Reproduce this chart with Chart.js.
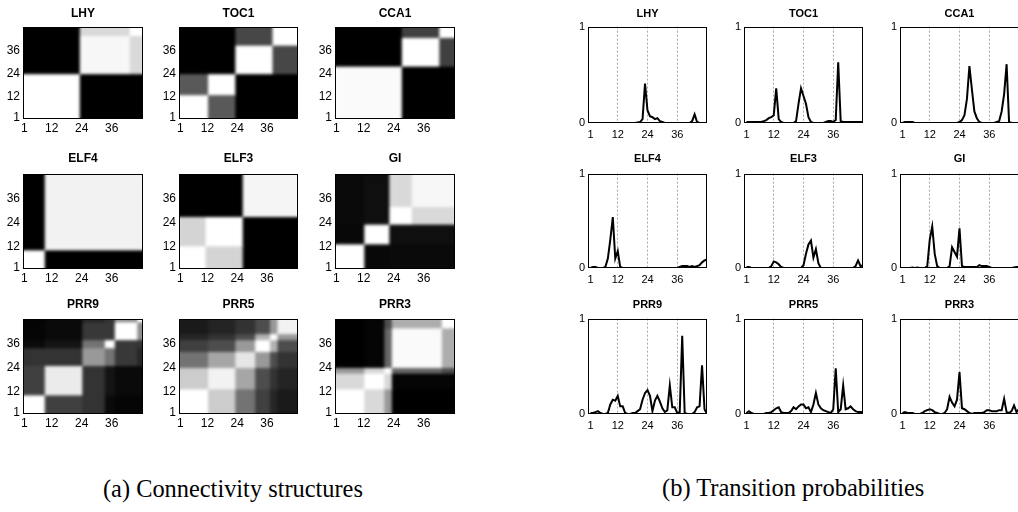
<!DOCTYPE html>
<html><head><meta charset="utf-8">
<script src="https://cdn.jsdelivr.net/npm/chart.js@4.4.1/dist/chart.umd.min.js"></script>
<style>
html,body{margin:0;padding:0;background:#fff;overflow:hidden;width:1018px;height:512px;position:relative;}
canvas{position:absolute;}
.ttl{position:absolute;font-family:"Liberation Sans",Arial,sans-serif;font-weight:bold;color:#000;text-align:center;white-space:nowrap;line-height:1;}
.cap{position:absolute;font-family:"Liberation Serif","Times New Roman",serif;color:#000;white-space:nowrap;line-height:1;}
</style></head><body>
<script>
// ---------------- data ----------------
const genes = ['LHY','TOC1','CCA1','ELF4','ELF3','GI','PRR9','PRR5','PRR3'];
const timeTicks = [1,12,24,36];
const probTicks = [0,1];

// Connectivity structures: segment ends (time points) and block similarity values
const lhyEnds = [23,43,48];
const lhyBlocks = [[1,0,0],[0,0.97,0.85],[0,0.85,1]];
const toc1Ends = [12,23,38,48];
const toc1Blocks = [[1,0.35,0,0],[0.35,1,0,0],[0,0,1,0.28],[0,0,0.28,1]];
const cca1Ends = [27,42,48];
const cca1Blocks = [[0.98,0,0],[0,1,0.25],[0,0.25,1]];
const elf4Ends = [9,48];
const elf4Blocks = [[1,0],[0,0.95]];
const elf3Ends = [11,26,48];
const elf3Blocks = [[1,0.83,0],[0.83,1,0],[0,0,0.96]];
const giEnds = [12,22,31,48];
const giBlocks = [[1,0.03,0.04,0.04],[0.03,1,0.06,0.06],[0.04,0.06,1,0.85],[0.04,0.06,0.85,0.97]];
const prr9Ends = [9,24,33,37,46,48];
const prr9Blocks = [
  [1,0.25,0.2,0.04,0.02,0.02],
  [0.25,0.92,0.2,0.08,0.04,0.04],
  [0.2,0.2,0.6,0.45,0.22,0.15],
  [0.04,0.08,0.45,1,0.22,0.2],
  [0.02,0.04,0.22,0.22,1,0.55],
  [0.02,0.04,0.15,0.2,0.55,1]];
const prr5Ends = [12,23,31,37,40,48];
const prr5Blocks = [
  [1,0.8,0.45,0.25,0.15,0.1],
  [0.8,0.95,0.65,0.3,0.2,0.14],
  [0.45,0.65,0.9,0.6,0.3,0.2],
  [0.25,0.3,0.6,1,0.7,0.3],
  [0.15,0.2,0.3,0.7,1,0.6],
  [0.1,0.14,0.2,0.3,0.6,0.95]];
const prr3Ends = [12,20,23,43,48];
const prr3Blocks = [
  [1,0.85,0.6,0,0],
  [0.85,1,0.85,0.02,0.02],
  [0.6,0.85,1,0.4,0.3],
  [0,0.02,0.4,0.98,0.68],
  [0,0.02,0.3,0.68,1]];

// Transition probabilities (time points 1..48)
const lhyProb = [0,0,0,0,0,0,0,0,0,0, 0,0,0,0,0,0,0,0,0,0.005, 0.01,0.04,0.41,0.13,0.07,0.06,0.04,0.05,0.02,0.01, 0,0,0,0,0,0,0,0,0,0, 0,0.02,0.09,0.01,0,0,0,0];
const toc1Prob = [0.01,0.01,0.01,0.01,0.01,0.01,0.01,0.02,0.03,0.05, 0.06,0.08,0.36,0.04,0.01,0,0,0,0,0, 0.02,0.2,0.36,0.28,0.2,0.06,0.01,0,0,0, 0,0,0.01,0.02,0.02,0.01,0.03,0.63,0.02,0.01, 0.01,0.01,0.01,0.01,0.01,0.01,0.01,0.01];
const cca1Prob = [0,0.01,0.01,0.01,0.01,0,0,0,0,0, 0,0,0,0,0,0,0,0,0,0, 0,0,0,0.01,0.03,0.08,0.25,0.59,0.35,0.12, 0.05,0.01,0,0,0,0,0,0,0.01,0.02, 0.12,0.3,0.61,0.01,0,0,0,0];
const elf4Prob = [0,0.01,0.01,0,0,0,0.01,0.1,0.3,0.54, 0.1,0.18,0.01,0,0,0,0,0,0,0, 0,0,0,0,0,0,0,0,0,0, 0,0,0,0,0,0,0.01,0.02,0.02,0.02, 0.01,0.02,0.01,0.02,0.03,0.06,0.08,0.09];
const elf3Prob = [0.01,0.01,0,0,0,0,0,0,0,0, 0.02,0.07,0.06,0.04,0.01,0,0,0,0,0, 0,0,0,0.03,0.15,0.25,0.29,0.11,0.2,0.05, 0,0,0,0,0,0,0,0,0,0, 0,0,0,0,0.02,0.08,0.02,0.03];
const giProb = [0,0,0,0,0.005,0,0.005,0,0,0, 0.02,0.3,0.44,0.15,0.02,0,0,0,0,0.02, 0.22,0.17,0.12,0.42,0.02,0.01,0.01,0.01,0.01,0.01, 0.01,0.03,0.02,0.02,0.02,0.01,0,0,0,0, 0,0,0,0,0,0.005,0.01,0.01];
const prr9Prob = [0.01,0.01,0.02,0.03,0.01,0,0,0.01,0.1,0.15, 0.14,0.19,0.08,0.08,0.01,0,0,0.01,0.01,0.03, 0.05,0.15,0.22,0.25,0.19,0.03,0.14,0.19,0.13,0.06, 0.02,0.04,0.3,0.07,0.07,0.01,0.02,0.82,0.01,0, 0,0,0.02,0.07,0.08,0.51,0.05,0];
const prr5Prob = [0.01,0.03,0.01,0,0,0,0,0,0.01,0.01, 0.02,0.04,0.06,0.07,0.02,0.01,0.01,0.01,0.03,0.07, 0.05,0.08,0.1,0.1,0.06,0.07,0.02,0.1,0.22,0.1, 0.06,0.04,0.03,0.02,0.01,0.05,0.48,0.02,0.05,0.3, 0.05,0.06,0.08,0.05,0.03,0.02,0.02,0.02];
const prr3Prob = [0.01,0.02,0.01,0.01,0.01,0,0,0,0.01,0.03, 0.04,0.05,0.04,0.02,0.01,0,0,0.01,0.05,0.18, 0.12,0.08,0.15,0.44,0.06,0.05,0.03,0.01,0,0.01, 0.01,0.01,0.01,0.02,0.04,0.04,0.03,0.03,0.03,0.04, 0.04,0.16,0.02,0.01,0.03,0.09,0.02,0.05];

const heatEnds = [lhyEnds,toc1Ends,cca1Ends,elf4Ends,elf3Ends,giEnds,prr9Ends,prr5Ends,prr3Ends];
const heatBlocks = [lhyBlocks,toc1Blocks,cca1Blocks,elf4Blocks,elf3Blocks,giBlocks,prr9Blocks,prr5Blocks,prr3Blocks];
const probSeries = [lhyProb,toc1Prob,cca1Prob,elf4Prob,elf3Prob,giProb,prr9Prob,prr5Prob,prr3Prob];
const timePoints = Array.from({length:48},(_,i)=>String(i+1));

// ---------------- layout ----------------
const PL=30, PR=6, PT=8, PB=18;
const heatCols = [[23,120],[179,119],[335,120]];
const heatRows = [[25,94],[172,97],[317,97]];
const lineCols = [[588,119],[744,119],[900,119]];
const lineRows = [[25,98],[172,96],[317,97]];
const titleY = [13,158,304];
const FONT = '"Liberation Sans", Arial, sans-serif';

const framePlugin = {id:'frame', afterDraw(chart){
  const {ctx, chartArea:a} = chart;
  ctx.save(); ctx.strokeStyle='#000'; ctx.lineWidth=1;
  ctx.strokeRect(Math.round(a.left)+0.5, Math.round(a.top)+0.5, Math.round(a.right-a.left)-1, Math.round(a.bottom-a.top)-1);
  ctx.restore();
}};
// soften the image like an interpolated bitmap display
const smoothPlugin = {id:'smooth', afterDatasetsDraw(chart){
  const {ctx, chartArea:a, canvas} = chart;
  const off=document.createElement('canvas'); off.width=canvas.width; off.height=canvas.height;
  off.getContext('2d').drawImage(canvas,0,0);
  ctx.save();
  ctx.beginPath(); ctx.rect(a.left,a.top,a.right-a.left,a.bottom-a.top); ctx.clip();
  ctx.filter='blur(1.7px)';
  ctx.drawImage(off,0,0);
  ctx.restore();
}};

function makeCanvas(left, top, w, h){
  const c=document.createElement('canvas');
  c.width=w+PL+PR; c.height=h+PT+PB;
  c.style.left=(left-PL)+'px'; c.style.top=(top-PT)+'px';
  c.style.width=c.width+'px'; c.style.height=c.height+'px';
  document.body.appendChild(c);
  return c;
}
function title(text, cx, cy, size){
  const d=document.createElement('div'); d.className='ttl'; d.textContent=text;
  d.style.fontSize=size+'px'; d.style.left=(cx-60)+'px'; d.style.width='120px';
  d.style.top=(cy-size/2)+'px';
  document.body.appendChild(d);
}
function gray(v){const c=Math.round(v*255);return 'rgb('+c+','+c+','+c+')';}
function segIndex(ends,t){for(let k=0;k<ends.length;k++){if(t<=ends[k])return k;}return ends.length-1;}
function heatDatasets(ends, blocks){
  const ds=[]; let start=1;
  ends.forEach((e,r)=>{
    const data=[], colors=[];
    timePoints.forEach((lbl,i)=>{
      data.push([start-0.5, e+0.5]);
      colors.push(gray(blocks[segIndex(ends,i+1)][r]));
    });
    ds.push({data, backgroundColor:colors, borderWidth:0, grouped:false, barPercentage:1, categoryPercentage:1, inflateAmount:0.7, clip:0});
    start=e+1;
  });
  return ds;
}

genes.forEach((g,k)=>{
  const col=k%3, row=Math.floor(k/3);
  // heatmap
  const [hl,hw]=heatCols[col], [ht,hh]=heatRows[row];
  const hc=makeCanvas(hl,ht,hw,hh);
  new Chart(hc,{
    type:'bar',
    data:{labels:timePoints, datasets:heatDatasets(heatEnds[k],heatBlocks[k])},
    options:{
      responsive:false, animation:false, devicePixelRatio:1,
      layout:{padding:{left:0,top:PT,right:PR,bottom:0}},
      plugins:{legend:{display:false},tooltip:{enabled:false}},
      scales:{
        x:{type:'category', offset:true, grid:{display:false,drawTicks:false}, border:{display:false},
           ticks:{autoSkip:false,maxRotation:0,minRotation:0,padding:2,color:'#000',font:{family:FONT,size:12},
                  callback:(v,i)=> timeTicks.includes(i+1)? String(i+1):''},
           afterFit:s=>{s.height=PB;}},
        y:{type:'linear', min:0.5, max:48.5, grid:{display:false,drawTicks:false}, border:{display:false},
           afterBuildTicks:s=>{s.ticks=timeTicks.map(v=>({value:v}));},
           ticks:{padding:3,color:'#000',font:{family:FONT,size:12},callback:v=>String(v)},
           afterFit:s=>{s.width=PL;}}
      }
    },
    plugins:[smoothPlugin, framePlugin]
  });
  title(g, hl+hw/2, titleY[row], 12);

  // transition probability line plot
  const [ll,lw]=lineCols[col], [lt,lh]=lineRows[row];
  const lc=makeCanvas(ll,lt,lw,lh);
  new Chart(lc,{
    type:'line',
    data:{datasets:[{data:probSeries[k].map((v,i)=>({x:i+1,y:v})), borderColor:'#000', borderWidth:2, pointRadius:0, tension:0, fill:false}]},
    options:{
      responsive:false, animation:false, devicePixelRatio:1,
      layout:{padding:{left:0,top:PT,right:PR,bottom:0}},
      plugins:{legend:{display:false},tooltip:{enabled:false}},
      scales:{
        x:{type:'linear', min:0, max:48,
           afterBuildTicks:s=>{s.ticks=timeTicks.map(v=>({value:v}));},
           grid:{drawTicks:false, lineWidth:1, color:c=> (c.tick && c.tick.value===1)?'rgba(0,0,0,0)':'#a8a8a8'},
           border:{display:false, dash:[2,2]},
           ticks:{padding:5,color:'#000',font:{family:FONT,size:11},callback:v=>String(v)},
           afterFit:s=>{s.height=PB;}},
        y:{type:'linear', min:0, max:1,
           afterBuildTicks:s=>{s.ticks=probTicks.map(v=>({value:v}));},
           grid:{display:false,drawTicks:false}, border:{display:false},
           ticks:{padding:3,color:'#000',font:{family:FONT,size:11},callback:v=>String(v)},
           afterFit:s=>{s.width=PL;}}
      }
    },
    plugins:[framePlugin]
  });
  title(g, ll+lw/2, titleY[row], 11);
});

function caption(text, left, width, baseline){
  const m=document.createElement('canvas').getContext('2d');
  m.font='20px "Liberation Serif"';
  const size=20*width/m.measureText(text).width;
  const d=document.createElement('div'); d.className='cap'; d.textContent=text;
  d.style.fontSize=size+'px'; d.style.left=left+'px'; d.style.top=(baseline-0.838*size)+'px';
  document.body.appendChild(d);
}
caption('(a) Connectivity structures', 103, 260, 497);
caption('(b) Transition probabilities', 662, 263, 497);
</script>
</body></html>
